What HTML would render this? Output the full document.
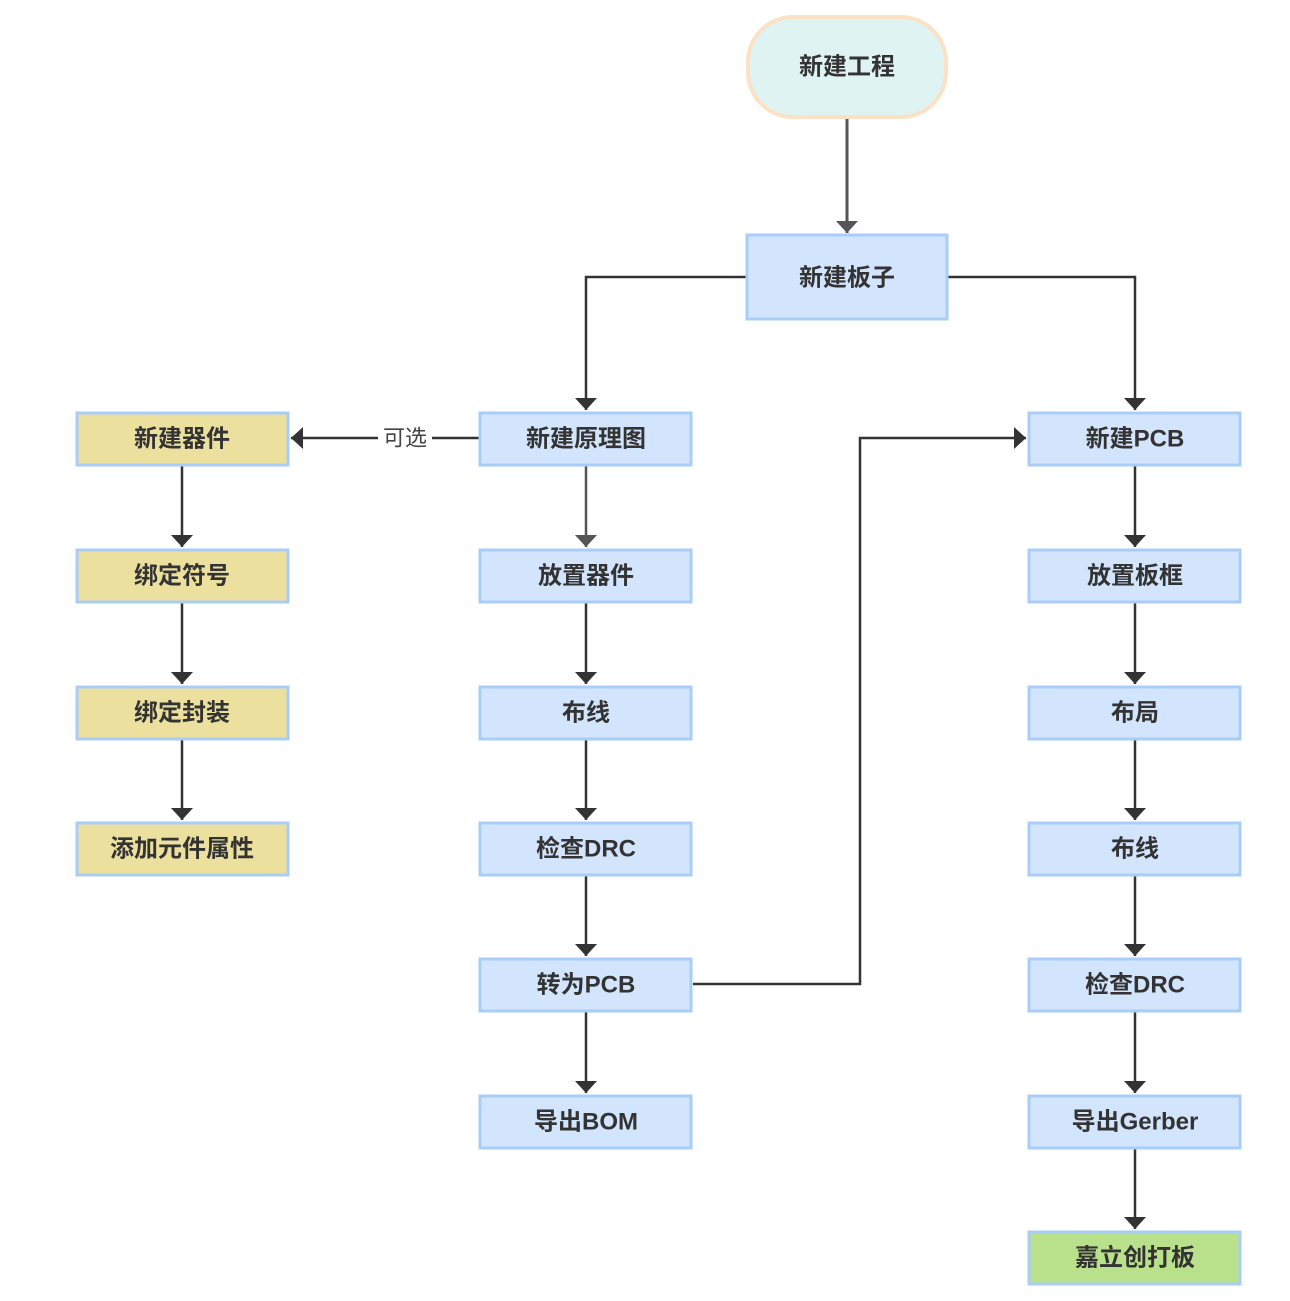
<!DOCTYPE html>
<html><head><meta charset="utf-8">
<style>
html,body{margin:0;padding:0;background:#fff;}
svg{display:block;}
text{font-family:"Liberation Sans","Noto Sans CJK SC",sans-serif;font-weight:bold;font-size:24px;fill:#333;text-anchor:middle;dominant-baseline:central;}
</style></head>
<body>
<svg width="1290" height="1301" viewBox="0 0 1290 1301" xmlns="http://www.w3.org/2000/svg">
<defs>
<marker id="a" viewBox="0 0 12 22" refX="12" refY="11" markerWidth="12" markerHeight="22" markerUnits="userSpaceOnUse" orient="auto">
<path d="M0,0 L12,11 L0,22 Z" fill="#333"/>
</marker>
<marker id="b" viewBox="0 0 12 22" refX="12" refY="11" markerWidth="12" markerHeight="22" markerUnits="userSpaceOnUse" orient="auto">
<path d="M0,0 L12,11 L0,22 Z" fill="#555"/>
</marker>
</defs>
<g fill="none" stroke="#333" stroke-width="2.5">
<path d="M847,119 V233" stroke="#555" stroke-width="3" marker-end="url(#b)" transform=""/>
<path d="M747,277 H586 V410" marker-end="url(#a)"/>
<path d="M947,277 H1135 V410" marker-end="url(#a)"/>
<path d="M479,438 H378 M432,438 H291" marker-end="url(#a)"/>
<path d="M693,984 H860 V438 H1026" marker-end="url(#a)"/>
<path d="M182,466 V547" marker-end="url(#a)"/>
<path d="M182,602 V684" marker-end="url(#a)"/>
<path d="M182,739 V820" marker-end="url(#a)"/>
<path d="M586,466 V547" stroke="#555" marker-end="url(#b)"/>
<path d="M586,602 V684" marker-end="url(#a)"/>
<path d="M586,739 V820" marker-end="url(#a)"/>
<path d="M586,875 V956" marker-end="url(#a)"/>
<path d="M586,1012 V1093" marker-end="url(#a)"/>
<path d="M1135,466 V547" marker-end="url(#a)"/>
<path d="M1135,602 V684" marker-end="url(#a)"/>
<path d="M1135,739 V820" marker-end="url(#a)"/>
<path d="M1135,875 V956" marker-end="url(#a)"/>
<path d="M1135,1012 V1093" marker-end="url(#a)"/>
<path d="M1135,1148 V1229" marker-end="url(#a)"/>
</g>
<rect x="378" y="426" width="54" height="24" fill="#fff"/>
<text x="405" y="438" style="font-weight:normal;font-size:22px;fill:#444">可选</text>

<rect x="748" y="17" width="198" height="100" rx="45" fill="#dff3f3" stroke="#fbe1c6" stroke-width="4"/>
<text x="847" y="67">新建工程</text>
<rect x="747" y="235" width="200" height="84" fill="#d2e5fc" stroke="#a9cdf9" stroke-width="3"/>
<text x="847" y="278">新建板子</text>

<g stroke="#a9cdf9" stroke-width="3">
<rect x="77" y="413" width="211" height="52" fill="#ece09e"/>
<rect x="77" y="550" width="211" height="52" fill="#ece09e"/>
<rect x="77" y="687" width="211" height="52" fill="#ece09e"/>
<rect x="77" y="823" width="211" height="52" fill="#ece09e"/>
<rect x="480" y="413" width="211" height="52" fill="#d2e5fc"/>
<rect x="480" y="550" width="211" height="52" fill="#d2e5fc"/>
<rect x="480" y="687" width="211" height="52" fill="#d2e5fc"/>
<rect x="480" y="823" width="211" height="52" fill="#d2e5fc"/>
<rect x="480" y="959" width="211" height="52" fill="#d2e5fc"/>
<rect x="480" y="1096" width="211" height="52" fill="#d2e5fc"/>
<rect x="1029" y="413" width="211" height="52" fill="#d2e5fc"/>
<rect x="1029" y="550" width="211" height="52" fill="#d2e5fc"/>
<rect x="1029" y="687" width="211" height="52" fill="#d2e5fc"/>
<rect x="1029" y="823" width="211" height="52" fill="#d2e5fc"/>
<rect x="1029" y="959" width="211" height="52" fill="#d2e5fc"/>
<rect x="1029" y="1096" width="211" height="52" fill="#d2e5fc"/>
<rect x="1029" y="1232" width="211" height="52" fill="#b9e08a"/>
</g>
<text x="182" y="439">新建器件</text>
<text x="182" y="576">绑定符号</text>
<text x="182" y="713">绑定封装</text>
<text x="182" y="849">添加元件属性</text>
<text x="586" y="439">新建原理图</text>
<text x="586" y="576">放置器件</text>
<text x="586" y="713">布线</text>
<text x="586" y="849">检查DRC</text>
<text x="586" y="985">转为PCB</text>
<text x="586" y="1122">导出BOM</text>
<text x="1135" y="439">新建PCB</text>
<text x="1135" y="576">放置板框</text>
<text x="1135" y="713">布局</text>
<text x="1135" y="849">布线</text>
<text x="1135" y="985">检查DRC</text>
<text x="1135" y="1122">导出Gerber</text>
<text x="1135" y="1258">嘉立创打板</text>
</svg>
</body></html>
